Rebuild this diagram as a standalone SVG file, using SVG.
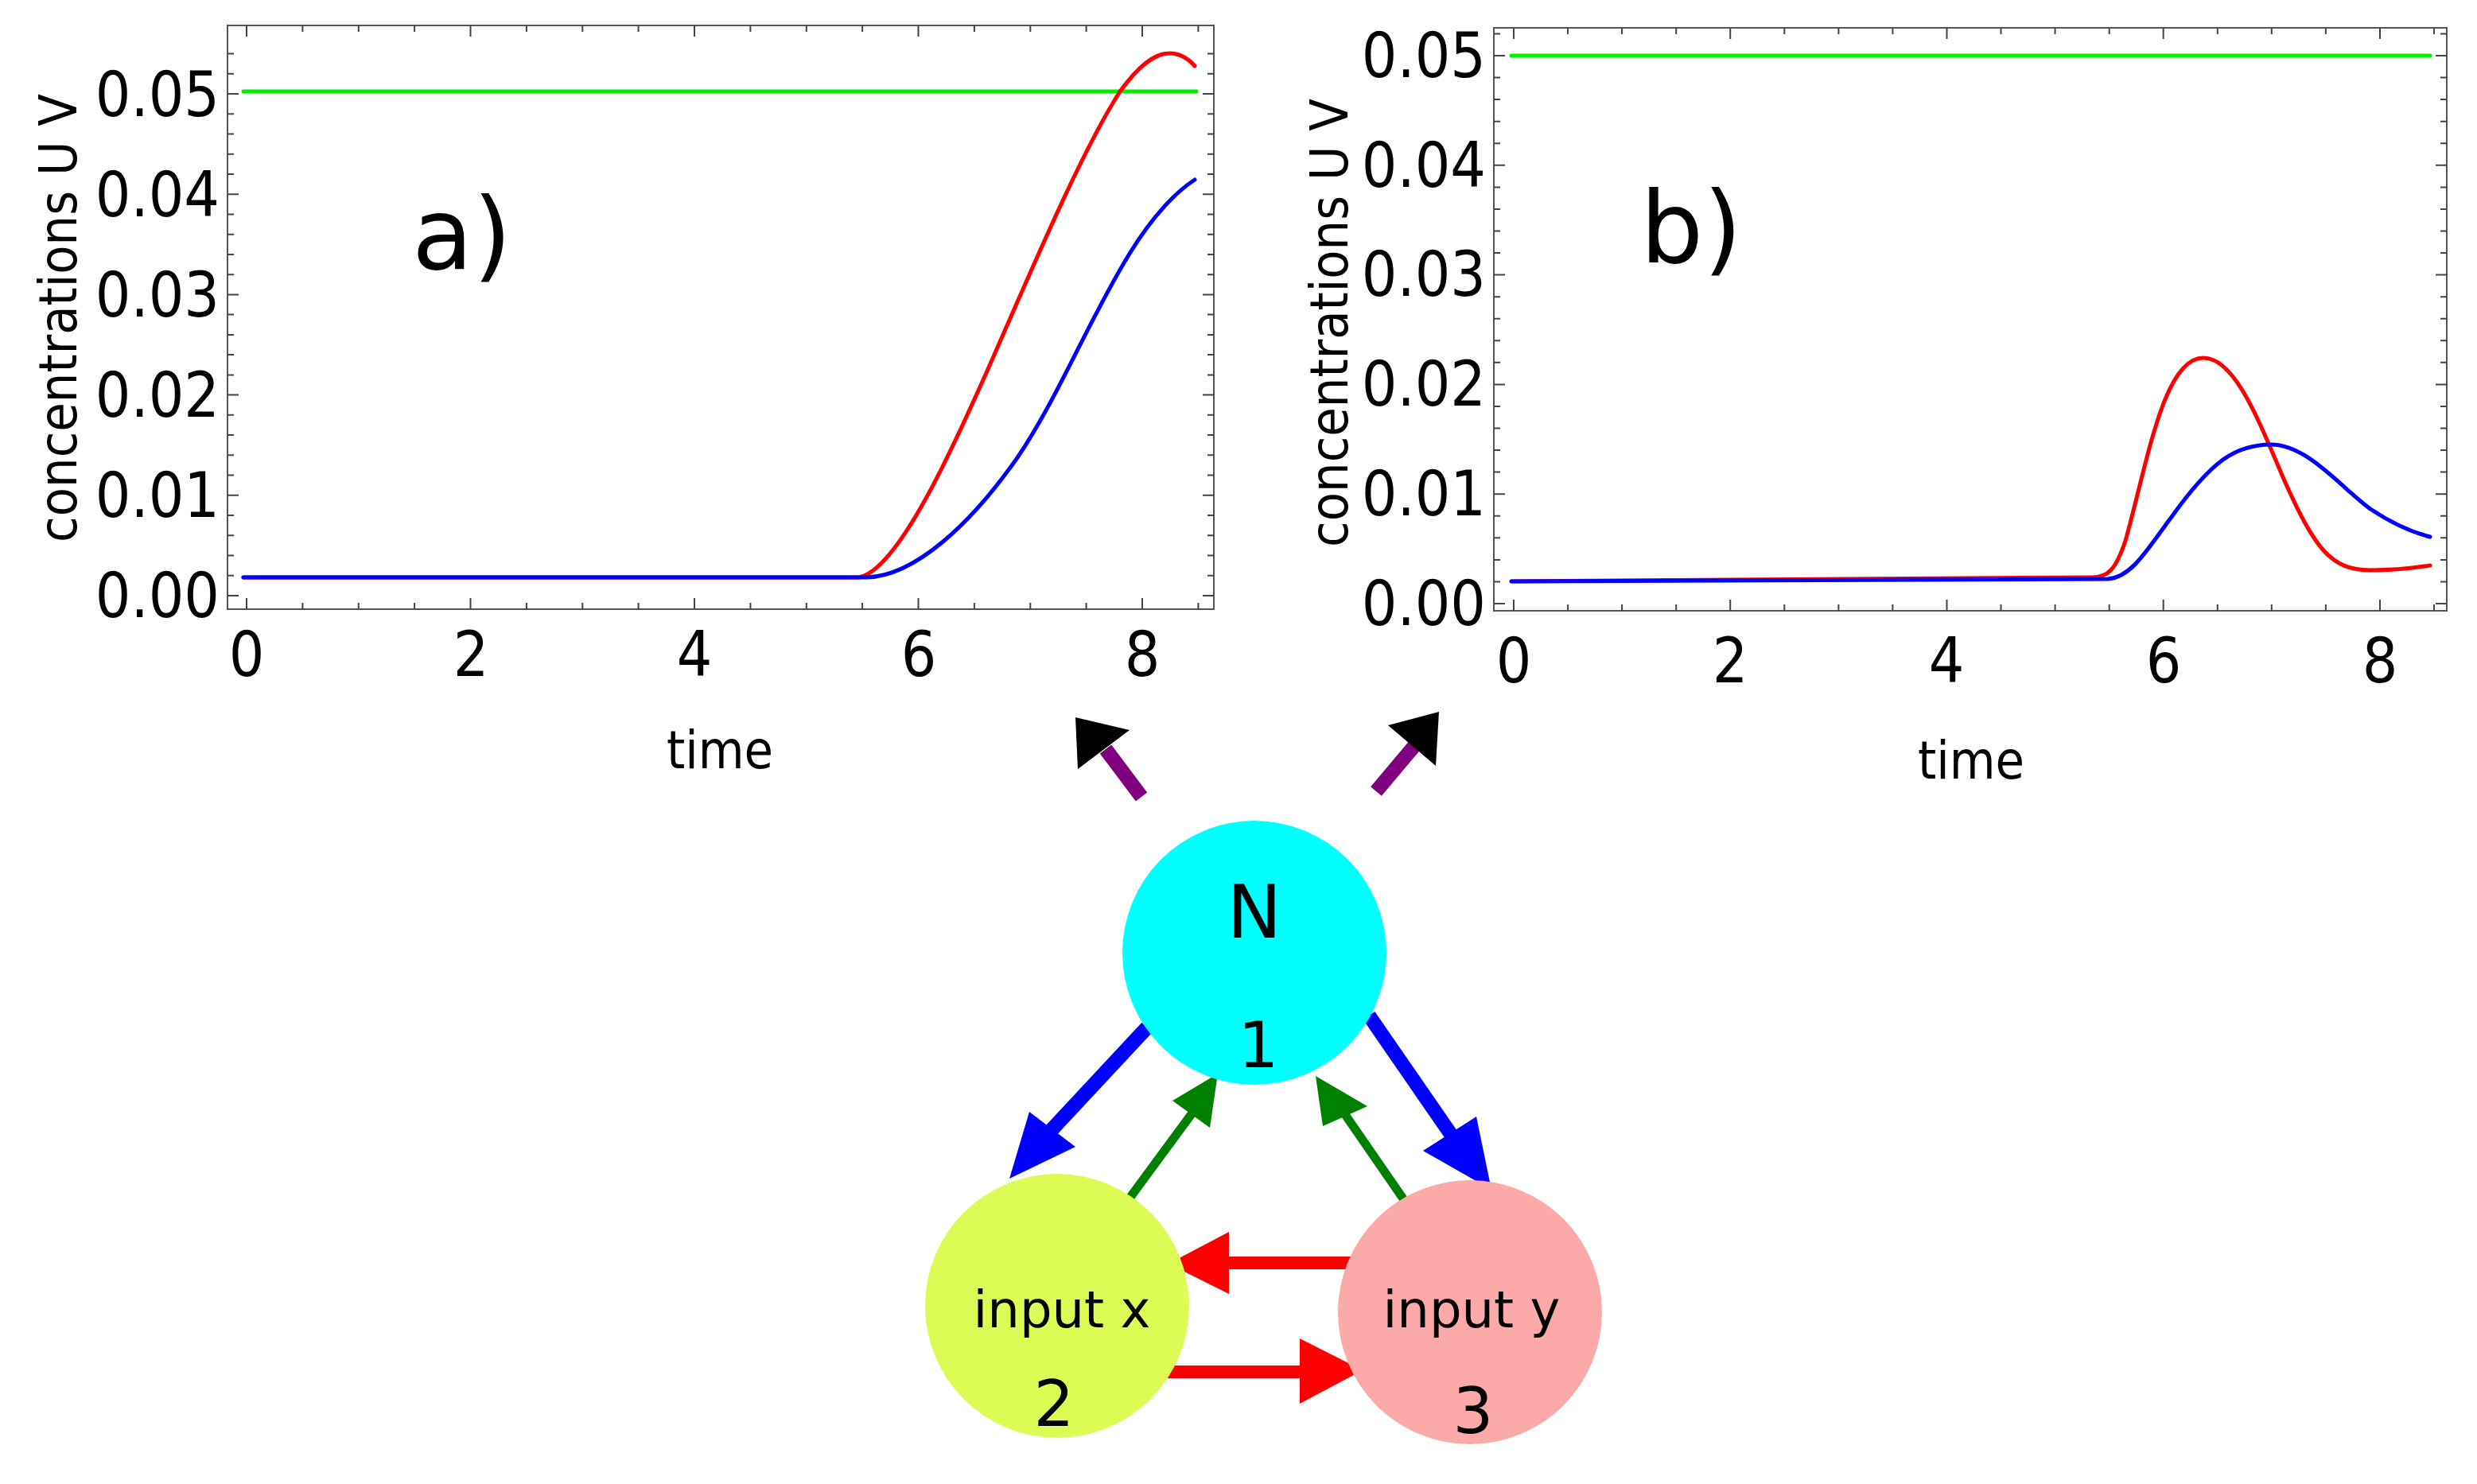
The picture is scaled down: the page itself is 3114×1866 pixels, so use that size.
<svg xmlns="http://www.w3.org/2000/svg" width="3114" height="1866" viewBox="0 0 3114 1866">
<style>
.frame{fill:none;stroke:#555;stroke-width:2}
.tk{stroke:#444;stroke-width:2;fill:none}
.num{font-family:"DejaVu Sans Condensed","DejaVu Sans",sans-serif;font-stretch:condensed;font-size:78px;fill:#000}
.lab{font-family:"DejaVu Sans Condensed","DejaVu Sans",sans-serif;font-stretch:condensed;font-size:66px;fill:#000}
.big{font-family:"DejaVu Sans",sans-serif;font-size:125px;fill:#000}
.nt{font-family:"DejaVu Sans",sans-serif;fill:#000;text-anchor:middle}
.cv{fill:none;stroke-width:5;stroke-linecap:round;stroke-linejoin:round}
</style>
<rect width="3114" height="1866" fill="#fff"/>
<g id="plot-a">
<rect class="frame" x="286" y="32" width="1240" height="734"/>
<path class="tk" d="M310,766v-14M380.4,766v-8M450.8,766v-8M521.1,766v-8M591.5,766v-14M661.9,766v-8M732.3,766v-8M802.6,766v-8M873,766v-14M943.4,766v-8M1013.8,766v-8M1084.1,766v-8M1154.5,766v-14M1224.9,766v-8M1295.3,766v-8M1365.6,766v-8M1436,766v-14M1506.4,766v-8
M310,32v14M380.4,32v8M450.8,32v8M521.1,32v8M591.5,32v14M661.9,32v8M732.3,32v8M802.6,32v8M873,32v14M943.4,32v8M1013.8,32v8M1084.1,32v8M1154.5,32v14M1224.9,32v8M1295.3,32v8M1365.6,32v8M1436,32v14M1506.4,32v8
M286,749h14M286,723.8h8M286,698.5h8M286,673.3h8M286,648h8M286,622.8h14M286,597.6h8M286,572.3h8M286,547.1h8M286,521.8h8M286,496.6h14M286,471.4h8M286,446.1h8M286,420.9h8M286,395.6h8M286,370.4h14M286,345.2h8M286,319.9h8M286,294.7h8M286,269.4h8M286,244.2h14M286,219h8M286,193.7h8M286,168.5h8M286,143.2h8M286,118h14M286,92.8h8M286,67.5h8
M1526,749h-14M1526,723.8h-8M1526,698.5h-8M1526,673.3h-8M1526,648h-8M1526,622.8h-14M1526,597.6h-8M1526,572.3h-8M1526,547.1h-8M1526,521.8h-8M1526,496.6h-14M1526,471.4h-8M1526,446.1h-8M1526,420.9h-8M1526,395.6h-8M1526,370.4h-14M1526,345.2h-8M1526,319.9h-8M1526,294.7h-8M1526,269.4h-8M1526,244.2h-14M1526,219h-8M1526,193.7h-8M1526,168.5h-8M1526,143.2h-8M1526,118h-14M1526,92.8h-8M1526,67.5h-8"/>
<g class="num" text-anchor="end">
<text x="276" y="776">0.00</text><text x="276" y="650">0.01</text><text x="276" y="524">0.02</text><text x="276" y="398">0.03</text><text x="276" y="272">0.04</text><text x="276" y="146">0.05</text>
</g>
<g class="num" text-anchor="middle">
<text x="310" y="850">0</text><text x="592" y="850">2</text><text x="873" y="850">4</text><text x="1155" y="850">6</text><text x="1436" y="850">8</text>
</g>
<text class="lab" text-anchor="middle" x="905" y="966">time</text>
<text class="lab" text-anchor="middle" transform="translate(96,400) rotate(-90)">concentrations U V</text>
<text class="big" x="518" y="338">a)</text>
<path class="cv" stroke="#00ee00" d="M306,115H1504"/>
<path class="cv" stroke="#ff0000" d="M306,726L1080,726C1130,716 1200,560 1250,446S1360,190 1408,115C1430,85 1450,67 1470,67C1485,67 1495,75 1502,83"/>
<path class="cv" stroke="#0000ff" d="M306,726L1090,726C1150,724 1220,660 1280,574C1330,500 1370,400 1420,319C1450,270 1480,240 1502,226"/>
</g>
<g id="plot-b">
<rect class="frame" x="1878" y="35" width="1198" height="733"/>
<path class="tk" d="M1903,768v-14M1971.1,768v-8M2039.1,768v-8M2107.2,768v-8M2175.2,768v-14M2243.3,768v-8M2311.4,768v-8M2379.4,768v-8M2447.5,768v-14M2515.5,768v-8M2583.6,768v-8M2651.7,768v-8M2719.7,768v-14M2787.8,768v-8M2855.8,768v-8M2923.9,768v-8M2992,768v-14M3060,768v-8
M1903,35v14M1971.1,35v8M2039.1,35v8M2107.2,35v8M2175.2,35v14M2243.3,35v8M2311.4,35v8M2379.4,35v8M2447.5,35v14M2515.5,35v8M2583.6,35v8M2651.7,35v8M2719.7,35v14M2787.8,35v8M2855.8,35v8M2923.9,35v8M2992,35v14M3060,35v8
M1878,759h14M1878,731.4h8M1878,703.9h8M1878,676.3h8M1878,648.8h8M1878,621.2h14M1878,593.6h8M1878,566.1h8M1878,538.5h8M1878,511h8M1878,483.4h14M1878,455.8h8M1878,428.3h8M1878,400.7h8M1878,373.2h8M1878,345.6h14M1878,318h8M1878,290.5h8M1878,262.9h8M1878,235.4h8M1878,207.8h14M1878,180.2h8M1878,152.7h8M1878,125.1h8M1878,97.6h8M1878,70h14M1878,42.4h8
M3076,759h-14M3076,731.4h-8M3076,703.9h-8M3076,676.3h-8M3076,648.8h-8M3076,621.2h-14M3076,593.6h-8M3076,566.1h-8M3076,538.5h-8M3076,511h-8M3076,483.4h-14M3076,455.8h-8M3076,428.3h-8M3076,400.7h-8M3076,373.2h-8M3076,345.6h-14M3076,318h-8M3076,290.5h-8M3076,262.9h-8M3076,235.4h-8M3076,207.8h-14M3076,180.2h-8M3076,152.7h-8M3076,125.1h-8M3076,97.6h-8M3076,70h-14M3076,42.4h-8"/>
<g class="num" text-anchor="end">
<text x="1868" y="786">0.00</text><text x="1868" y="648">0.01</text><text x="1868" y="510">0.02</text><text x="1868" y="372">0.03</text><text x="1868" y="235">0.04</text><text x="1868" y="97">0.05</text>
</g>
<g class="num" text-anchor="middle">
<text x="1903" y="858">0</text><text x="2175" y="858">2</text><text x="2447" y="858">4</text><text x="2720" y="858">6</text><text x="2992" y="858">8</text>
</g>
<text class="lab" text-anchor="middle" x="2478" y="979">time</text>
<text class="lab" text-anchor="middle" transform="translate(1694,406) rotate(-90)">concentrations U V</text>
<text class="big" x="2062" y="330">b)</text>
<path class="cv" stroke="#00ee00" d="M1900,70H3055"/>
<path class="cv" stroke="#ff0000" d="M1900,731L2630,726C2650,726 2660,716 2672,680C2700,580 2720,450 2770,450C2810,450 2840,530 2870,600C2910,690 2930,717 2980,717C3020,717 3040,713 3055,711"/>
<path class="cv" stroke="#0000ff" d="M1900,731L2650,728C2680,726 2700,690 2730,650C2780,580 2810,559 2855,559C2900,559 2940,610 2980,640C3010,660 3035,670 3055,675"/>
</g>
<g id="connectors">
<path stroke="#800080" stroke-width="18" d="M1435,1002L1390,942M1730,995L1778,938"/>
<polygon fill="#000" points="1352,902 1355,967 1420,918"/>
<polygon fill="#000" points="1809,895 1745,912 1805,963"/>
<path stroke="#0000ff" stroke-width="18" d="M1442,1292L1318,1425M1721,1277L1828,1432"/>
<polygon fill="#0000ff" points="1269,1482 1294,1398 1352,1442"/>
<polygon fill="#0000ff" points="1875,1496 1789,1447 1856,1404"/>
<path stroke="#008000" stroke-width="11" d="M1419,1508L1500,1398M1768,1513L1690,1400"/>
<polygon fill="#008000" points="1531,1350 1474,1384 1521,1418"/>
<polygon fill="#008000" points="1654,1353 1663,1416 1719,1391"/>
<path stroke="#ff0000" stroke-width="16" d="M1705,1588H1545M1468,1725H1640"/>
<polygon fill="#ff0000" points="1469,1589 1545,1549 1545,1627"/>
<polygon fill="#ff0000" points="1713,1723 1634,1683 1634,1765"/>
</g>
<g id="node-N">
<circle cx="1577" cy="1198" r="166" fill="#00ffff"/>
<text class="nt" x="1577" y="1179" font-size="92">N</text>
<text class="nt" x="1582" y="1342" font-size="80">1</text>
</g>
<g id="node-x">
<circle cx="1329" cy="1642" r="166" fill="#ddfb55"/>
<text class="nt" x="1335" y="1669" font-size="64">input x</text>
<text class="nt" x="1325" y="1793" font-size="80">2</text>
</g>
<g id="node-y">
<circle cx="1848" cy="1650" r="166" fill="#fba9a9"/>
<text class="nt" x="1850" y="1669" font-size="64">input y</text>
<text class="nt" x="1852" y="1802" font-size="80">3</text>
</g>
</svg>
